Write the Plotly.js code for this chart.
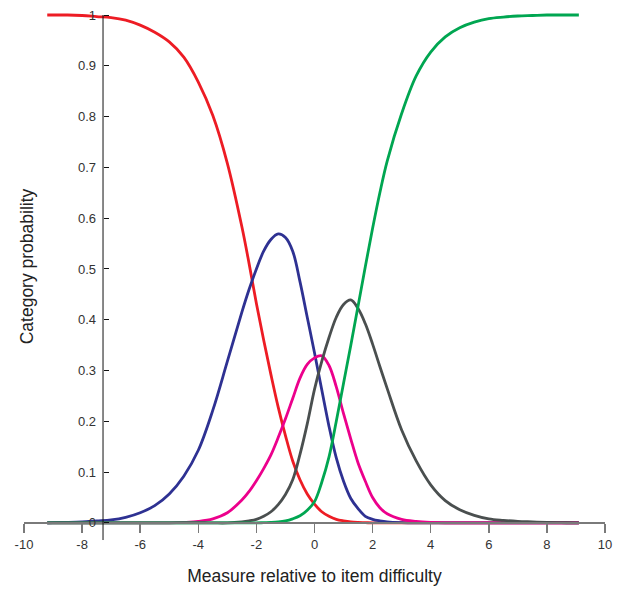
<!DOCTYPE html>
<html>
<head>
<meta charset="utf-8">
<script src="https://cdn.plot.ly/plotly-3.0.1.min.js"></script>
<style>
  html, body { margin: 0; padding: 0; background: #fff; }
  #chart { width: 621px; height: 590px; }
</style>
</head>
<body>
<div id="chart"></div>
<script>
// Measure relative to item difficulty (x) and category probabilities
const measure = [-9.2, -9, -8.5, -8, -7.5, -7, -6.5, -6, -5.5, -5, -4.5, -4, -3.5, -3,
  -2.5, -2.25, -2, -1.75, -1.5, -1.25, -1, -0.75, -0.5, -0.25, 0, 0.25, 0.5, 0.75, 1, 1.25, 1.5, 1.75, 2, 2.25, 2.5,
  3, 3.5, 4, 4.5, 5, 5.5, 6, 6.5, 7, 7.5, 8, 8.5, 9, 9.1];

const cat0Red = [1.0, 1.0, 1.0, 0.999, 0.997, 0.995, 0.990, 0.980, 0.966, 0.947, 0.917, 0.868, 0.802, 0.708,
  0.583, 0.510, 0.432, 0.360, 0.292, 0.228, 0.172, 0.122, 0.085, 0.057, 0.037, 0.022, 0.013, 0.007, 0.004, 0.002, 0.001, 0.0005, 0, 0, 0,
  0, 0, 0, 0, 0, 0, 0, 0, 0, 0, 0, 0, 0, 0];
const cat1Blue = [0, 0.0005, 0.001, 0.002, 0.004, 0.006, 0.011, 0.020, 0.034, 0.057, 0.092, 0.143, 0.222, 0.318,
  0.415, 0.460, 0.500, 0.535, 0.558, 0.569, 0.562, 0.535, 0.475, 0.405, 0.335, 0.262, 0.190, 0.128, 0.082, 0.048, 0.028, 0.013, 0.007, 0.004, 0.002,
  0.0005, 0, 0, 0, 0, 0, 0, 0, 0, 0, 0, 0, 0, 0];
const cat2Magenta = [0, 0, 0, 0, 0, 0, 0, 0, 0, 0, 0.001, 0.003, 0.008, 0.020,
  0.045, 0.062, 0.083, 0.107, 0.134, 0.168, 0.205, 0.245, 0.285, 0.312, 0.325, 0.329, 0.310, 0.268, 0.215, 0.165, 0.118, 0.082, 0.050, 0.030, 0.018,
  0.007, 0.003, 0.001, 0, 0, 0, 0, 0, 0, 0, 0, 0, 0, 0];
const cat3Gray = [0, 0, 0, 0, 0, 0, 0, 0, 0, 0, 0, 0, 0, 0,
  0.002, 0.004, 0.007, 0.013, 0.022, 0.036, 0.056, 0.085, 0.135, 0.195, 0.263, 0.318, 0.365, 0.405, 0.430, 0.439, 0.422, 0.392, 0.352, 0.308, 0.265,
  0.183, 0.122, 0.075, 0.044, 0.026, 0.015, 0.008, 0.005, 0.003, 0.002, 0.001, 0.0005, 0, 0];
const cat4Green = [0, 0, 0, 0, 0, 0, 0, 0, 0, 0, 0, 0, 0, 0,
  0, 0, 0, 0.0005, 0.001, 0.002, 0.004, 0.008, 0.014, 0.025, 0.042, 0.080, 0.130, 0.200, 0.275, 0.350, 0.427, 0.505, 0.580, 0.650, 0.712,
  0.806, 0.880, 0.927, 0.957, 0.975, 0.986, 0.993, 0.996, 0.998, 0.999, 1.0, 1.0, 1.0, 1.0];

const xTickVals = [-10, -8, -6, -4, -2, 0, 2, 4, 6, 8, 10];
const xTickText = ['-10', '-8', '-6', '-4', '-2', '0', '2', '4', '6', '8', '10'];
const yTickVals = [0, 0.1, 0.2, 0.3, 0.4, 0.5, 0.6, 0.7, 0.8, 0.9, 1];
const yTickText = ['0', '0.1', '0.2', '0.3', '0.4', '0.5', '0.6', '0.7', '0.8', '0.9', '1'];

const series = [
  { y: cat0Red, color: '#ED1C24' },
  { y: cat1Blue, color: '#2E3192' },
  { y: cat2Magenta, color: '#EC008C' },
  { y: cat3Gray, color: '#4A4F4F' },
  { y: cat4Green, color: '#00A651' }
];

const traces = series.map(s => ({
  type: 'scatter',
  mode: 'lines',
  x: measure,
  y: s.y,
  line: { color: s.color, width: 2.8, shape: 'spline', smoothing: 1 },
  hoverinfo: 'skip',
  showlegend: false
}));

const yMin = -0.01, yMax = 1.0197;
const xAxisPos = (0 - yMin) / (yMax - yMin);
const yAxisPos = 0.136;
const yTop = (1 - yMin) / (yMax - yMin);

const layout = {
  width: 621,
  height: 590,
  margin: { l: 24, r: 16, t: 5, b: 62 },
  paper_bgcolor: '#ffffff',
  plot_bgcolor: '#ffffff',
  font: { family: 'Liberation Sans, Arial, sans-serif', color: '#333333', size: 13 },
  showlegend: false,
  xaxis: {
    range: [-10, 10],
    anchor: 'free',
    position: xAxisPos,
    tickvals: xTickVals,
    ticktext: xTickText,
    ticks: 'outside',
    ticklen: 9,
    tickwidth: 1.5,
    tickcolor: '#7a7a7a',
    showline: true,
    linecolor: '#7a7a7a',
    linewidth: 2,
    showgrid: false,
    zeroline: false,
    automargin: false,
    tickfont: { size: 13, color: '#333333' },
    title: { text: 'Measure relative to item difficulty', font: { size: 17.5, color: '#222222' }, standoff: 18 }
  },
  yaxis: {
    range: [yMin, yMax],
    anchor: 'free',
    position: yAxisPos,
    tickvals: yTickVals,
    ticktext: yTickText,
    ticks: 'inside',
    ticklen: 5,
    tickwidth: 1,
    tickcolor: '#111111',
    ticklabelstandoff: 7,
    showline: false,
    showgrid: false,
    zeroline: false,
    automargin: false,
    tickfont: { size: 13, color: '#333333' },
    title: { text: 'Category probability', font: { size: 17.5, color: '#222222' }, standoff: 38 }
  },
  shapes: [
    {
      type: 'line', xref: 'paper', yref: 'paper',
      x0: yAxisPos, x1: yAxisPos, y0: -0.023, y1: yTop,
      line: { color: '#111111', width: 1 }
    }
  ]
};

Plotly.newPlot('chart', traces, layout, { displayModeBar: false, staticPlot: true });
</script>
</body>
</html>
